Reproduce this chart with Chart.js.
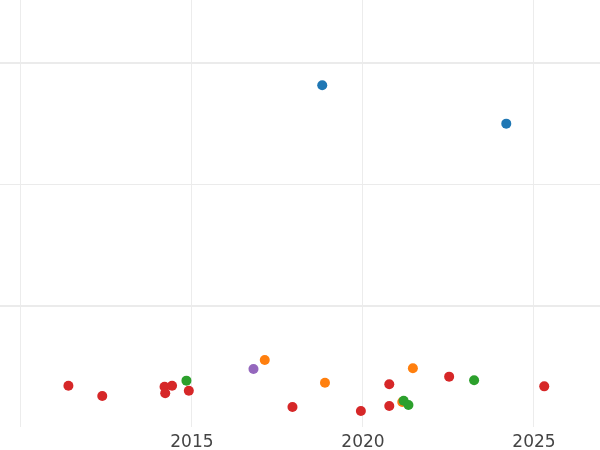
<!DOCTYPE html>
<html>
<head>
<meta charset="utf-8">
<script src="https://cdn.jsdelivr.net/npm/chart.js@4/dist/chart.umd.min.js"></script>
<style>
  html, body { margin: 0; padding: 0; background: #fff; }
  #wrap { width: 600px; height: 450px; }
</style>
</head>
<body>
<div id="wrap"><canvas id="chart"></canvas></div>
<script>
// series values (x = year, y = value)
const blueX = [2018.81, 2024.19];
const blueY = [2.816, 2.500];
const orangeX = [2017.13, 2018.89, 2021.46, 2021.15];
const orangeY = [0.552, 0.365, 0.484, 0.206];
const greenX = [2014.84, 2021.19, 2021.33, 2023.25];
const greenY = [0.382, 0.217, 0.181, 0.385];
const redX = [2011.39, 2012.38, 2014.20, 2014.42, 2014.22, 2014.91, 2017.94, 2019.94, 2020.77, 2020.77, 2022.52, 2025.30];
const redY = [0.340, 0.255, 0.332, 0.340, 0.278, 0.299, 0.165, 0.132, 0.352, 0.173, 0.415, 0.335];
const purpleX = [2016.80];
const purpleY = [0.478];

// tick labels
const xTicks = [2010, 2015, 2020, 2025];
const yTicks = [1, 2, 3];

function toPoints(xs, ys) {
    return xs.map((x, i) => ({ x: x, y: ys[i] }));
}

// later series are drawn on top (lower order = on top in Chart.js)
function series(xs, ys, color, order) {
    return {
        data: toPoints(xs, ys),
        backgroundColor: color,
        borderWidth: 0,
        pointRadius: 5,
        pointHoverRadius: 5,
        order: order,
    };
}

const ctx = document.getElementById("chart").getContext("2d");
new Chart(ctx, {
    type: "scatter",
    data: {
        datasets: [
            series(blueX, blueY, "#1f77b4", 5),
            series(orangeX, orangeY, "#ff7f0e", 4),
            series(greenX, greenY, "#2ca02c", 3),
            series(redX, redY, "#d62728", 2),
            series(purpleX, purpleY, "#9467bd", 1),
        ],
    },
    options: {
        responsive: true,
        maintainAspectRatio: false,
        animation: false,
        layout: { padding: 0, autoPadding: false },
        plugins: {
            legend: { display: false },
            tooltip: { enabled: false },
        },
        scales: {
            x: {
                type: "linear",
                min: 2009.39,
                max: 2026.93,
                afterBuildTicks: (axis) => {
                    axis.ticks = xTicks.map((v) => ({ value: v }));
                },
                afterFit: (axis) => {
                    axis.height = 23; // keep plot bottom at same spot as reference
                },
                grid: { color: "#ececec", lineWidth: 1, drawTicks: false },
                border: { display: false },
                ticks: {
                    padding: 5,
                    color: "#444",
                    font: { family: "DejaVu Sans", size: 17 },
                    callback: (v) => (v === 2010 ? "" : String(v)),
                    maxRotation: 0,
                },
            },
            y: {
                type: "linear",
                min: 0,
                max: 3.519,
                afterBuildTicks: (axis) => {
                    axis.ticks = yTicks.map((v) => ({ value: v }));
                },
                grid: {
                    color: "#ebebeb",
                    lineWidth: (c) => (c.tick && c.tick.value === 2 ? 1 : 2),
                    drawTicks: false,
                },
                border: { display: false },
                ticks: { display: false },
            },
        },
    },
});
</script>
</body>
</html>
